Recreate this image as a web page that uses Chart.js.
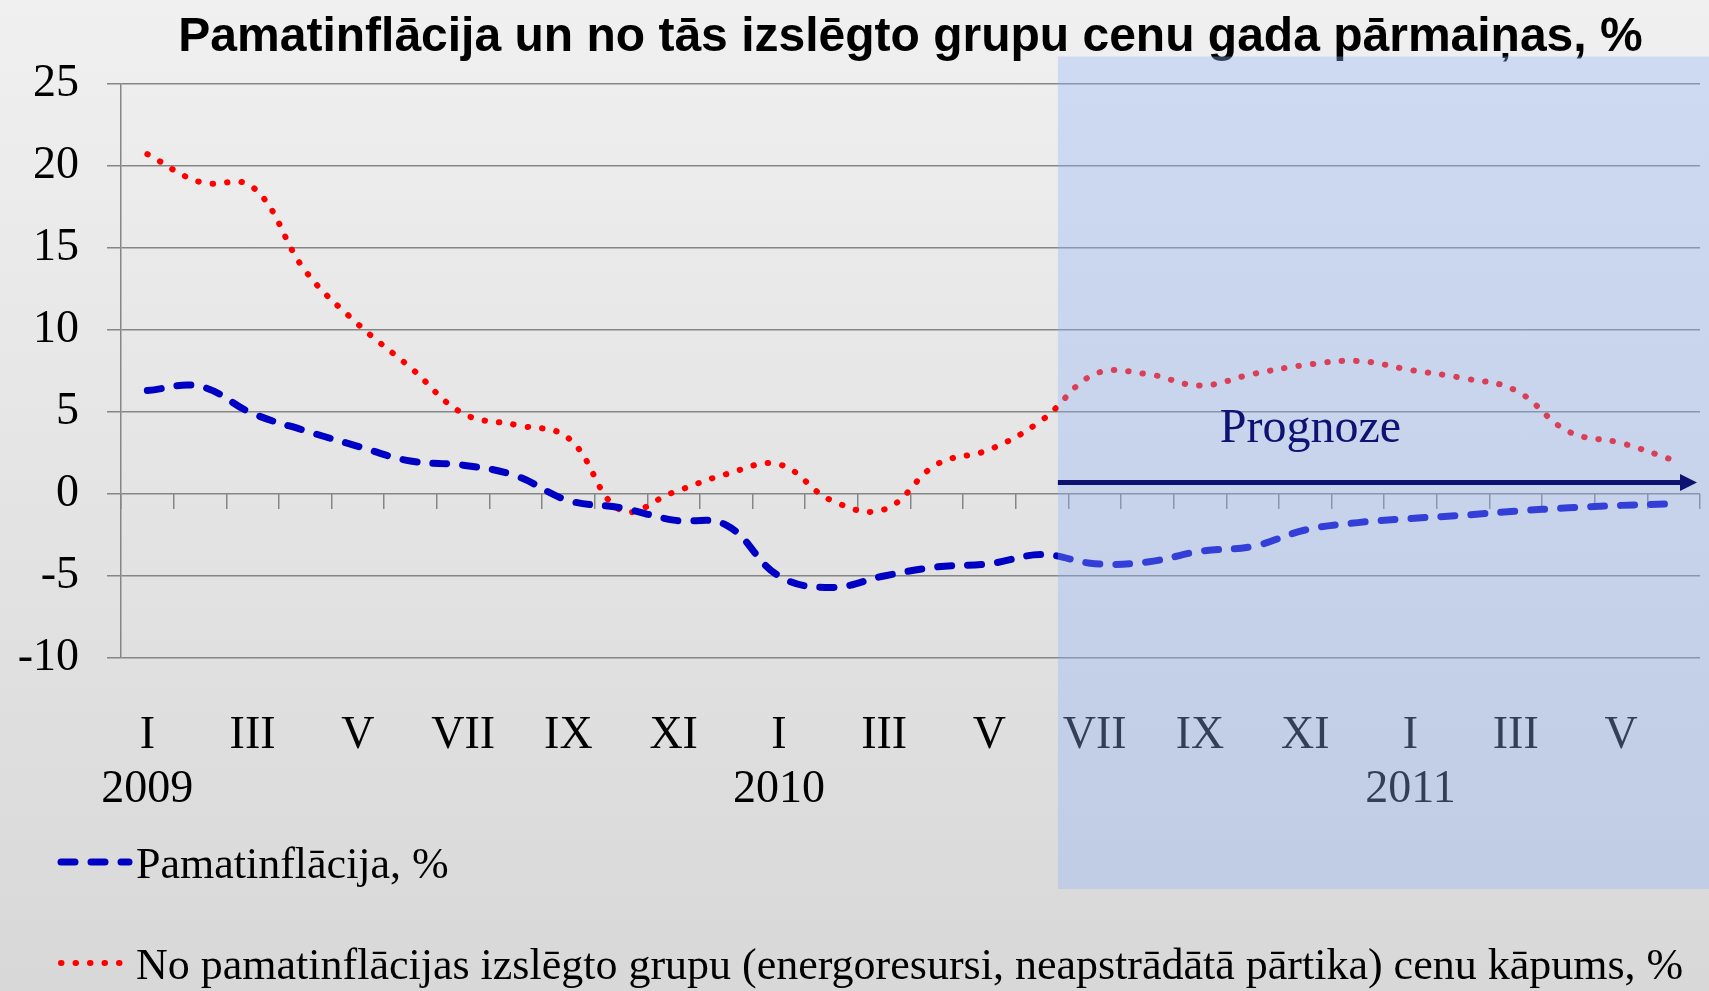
<!DOCTYPE html>
<html>
<head>
<meta charset="utf-8">
<script src="https://cdn.jsdelivr.net/npm/chart.js@4.4.0/dist/chart.umd.min.js"></script>
<style>
  html, body { margin: 0; padding: 0; }
  body { width: 1709px; height: 991px; overflow: hidden; background: linear-gradient(#f0f0f0, #d8d8d8); }
</style>
</head>
<body>
<canvas id="chart" width="1709" height="991"></canvas>
<script>
// Monthly data, I 2009 .. VI 2011
const monthLabels = ['I', '', 'III', '', 'V', '', 'VII', '', 'IX', '', 'XI', '',
                     'I', '', 'III', '', 'V', '', 'VII', '', 'IX', '', 'XI', '',
                     'I', '', 'III', '', 'V', ''];
const yearLabels = ['2009', '', '', '', '', '', '', '', '', '', '', '',
                    '2010', '', '', '', '', '', '', '', '', '', '', '',
                    '2011', '', '', '', '', ''];
const coreInflation = [6.3, 6.55, 4.9, 3.85, 2.9, 2.0, 1.75, 1.1, -0.4, -0.85, -1.6, -1.9,
                       -5.0, -5.7, -5.0, -4.45, -4.25, -3.7, -4.25, -4.15, -3.5, -3.2, -2.2, -1.75,
                       -1.5, -1.3, -1.05, -0.85, -0.7, -0.6];
const excludedGroups = [20.7, 19.0, 18.7, 13.6, 10.35, 7.7, 4.9, 4.2, 3.4, -1.0, 0.1, 1.2,
                        1.8, -0.4, -0.95, 1.8, 2.7, 4.5, 7.3, 7.3, 6.6, 7.3, 7.85, 8.1,
                        7.55, 7.05, 6.3, 3.8, 3.1, 2.05];
const seriesNames = ['Pamatinflācija, %',
                     'No pamatinflācijas izslēgto grupu (energoresursi, neapstrādātā pārtika) cenu kāpums, %'];
const yMin = -10, yMax = 25, yStep = 5;

// forecast block (in axis units)
const forecastFrom = 17.3;
const arrowLevel = 0.7;
const forecastText = 'Prognoze';

const GRID = '#868686';
const SERIF = '"Liberation Serif", "Times New Roman", serif';

const forecastPlugin = {
    id: 'forecast',
    afterDraw(chart) {
        const { ctx, chartArea, scales: { x, y } } = chart;
        const left = x.getPixelForValue(forecastFrom);
        const top = y.getPixelForValue(26.65);
        const bottom = chartArea.bottom + 231;
        ctx.save();
        ctx.fillStyle = 'rgba(146,180,250,0.35)';
        ctx.fillRect(left, top, chart.width - left, bottom - top);

        // arrow
        const ay = y.getPixelForValue(arrowLevel);
        const tip = chartArea.right - 3;
        ctx.strokeStyle = '#0d1273';
        ctx.fillStyle = '#0d1273';
        ctx.lineWidth = 5;
        ctx.beginPath();
        ctx.moveTo(left, ay);
        ctx.lineTo(tip - 12, ay);
        ctx.stroke();
        ctx.beginPath();
        ctx.moveTo(tip, ay);
        ctx.lineTo(tip - 17, ay - 8.5);
        ctx.lineTo(tip - 17, ay + 8.5);
        ctx.closePath();
        ctx.fill();

        ctx.font = '48px ' + SERIF;
        ctx.textAlign = 'center';
        ctx.textBaseline = 'alphabetic';
        ctx.fillText(forecastText, x.getPixelForValue(22.1), y.getPixelForValue(3.17));
        ctx.restore();

        // legend, one row per series
        const baselines = [chart.height - 113, chart.height - 12];
        chart.data.datasets.forEach((ds, i) => {
            const base = baselines[i];
            const sy = base - 16;
            ctx.save();
            ctx.strokeStyle = ds.borderColor;
            ctx.lineWidth = ds.borderWidth;
            ctx.lineCap = 'round';
            ctx.setLineDash(ds.borderDash);
            ctx.beginPath();
            ctx.moveTo(61, sy);
            ctx.lineTo(i === 0 ? 129 : 120, sy);
            ctx.stroke();
            ctx.setLineDash([]);
            ctx.fillStyle = '#000';
            ctx.font = '44px ' + SERIF;
            ctx.textAlign = 'left';
            ctx.textBaseline = 'alphabetic';
            ctx.fillText(ds.label, 136, base);
            ctx.restore();
        });
    }
};

new Chart(document.getElementById('chart'), {
    type: 'line',
    data: {
        labels: monthLabels.map((m, i) => [m, yearLabels[i]]),
        datasets: [
            {
                label: seriesNames[0],
                data: coreInflation,
                xAxisID: 'x',
                borderColor: '#0000c4',
                borderWidth: 7,
                borderDash: [14, 16],
                borderCapStyle: 'round',
                tension: 0.4,
                pointRadius: 0,
                fill: false
            },
            {
                label: seriesNames[1],
                data: excludedGroups,
                xAxisID: 'x',
                borderColor: '#ff0000',
                borderWidth: 6,
                borderDash: [0.5, 14],
                borderCapStyle: 'round',
                tension: 0.4,
                pointRadius: 0,
                fill: false
            }
        ]
    },
    options: {
        responsive: false,
        animation: false,
        devicePixelRatio: 1,
        layout: { padding: { left: 18, right: 9, top: 0, bottom: 182 } },
        plugins: {
            legend: { display: false },
            tooltip: { enabled: false },
            title: {
                display: true,
                text: 'Pamatinflācija un no tās izslēgto grupu cenu gada pārmaiņas, %',
                color: '#000',
                fullSize: false,
                font: { family: '"Liberation Sans", Arial, sans-serif', size: 48, weight: 'bold', lineHeight: 1.2 },
                padding: { top: 9, bottom: 17 }
            }
        },
        scales: {
            x: {
                type: 'category',
                offset: true,
                grid: { display: false },
                border: { display: false },
                ticks: {
                    color: '#000',
                    autoSkip: false,
                    maxRotation: 0,
                    padding: 43,
                    font: { family: SERIF, size: 46, lineHeight: 54 / 46 }
                },
                afterFit(scale) {
                    // tick padding only above the labels
                    scale.height = 151;
                    scale.paddingLeft = 0;
                    scale.paddingRight = 0;
                }
            },
            x2: {
                type: 'category',
                labels: monthLabels,
                position: { y: 0 },
                offset: true,
                grid: { offset: true, drawOnChartArea: false, drawTicks: true, tickLength: 15, color: GRID, lineWidth: 1.5 },
                border: { display: false },
                ticks: { display: false }
            },
            y: {
                min: yMin,
                max: yMax,
                grid: { color: GRID, lineWidth: 1.5, tickLength: 14 },
                border: { display: true, color: GRID, width: 1.5 },
                ticks: {
                    stepSize: yStep,
                    color: '#000',
                    padding: 28,
                    font: { family: SERIF, size: 46, lineHeight: 1.2 }
                },
                afterFit(scale) {
                    scale.width = 103;
                }
            }
        }
    },
    plugins: [forecastPlugin]
});
</script>
</body>
</html>
